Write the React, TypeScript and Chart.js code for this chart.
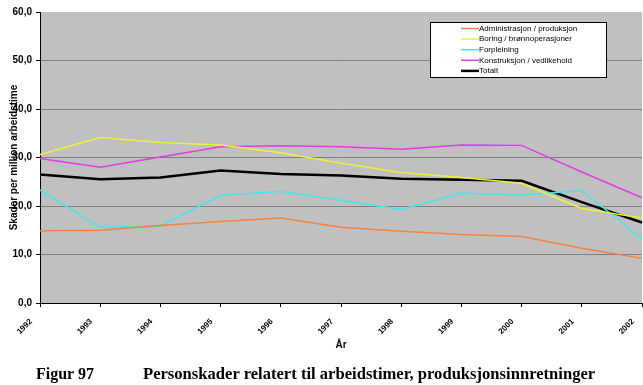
import React, { useEffect, useRef } from "react";
import { Chart, registerables } from "chart.js";

Chart.register(...registerables);

const years = ["1992", "1993", "1994", "1995", "1996", "1997", "1998", "1999", "2000", "2001", "2002"];
const yTicks = [0, 10, 20, 30, 40, 50, 60];

const administrasjon = [14.9, 15.0, 16.0, 16.8, 17.5, 15.6, 14.8, 14.1, 13.7, 11.3, 9.2];
const boring = [30.6, 34.1, 33.1, 32.6, 31.0, 28.8, 26.9, 25.9, 24.7, 19.5, 17.5];
const forpleining = [23.3, 15.6, 15.9, 22.2, 23.0, 21.2, 19.3, 22.7, 22.2, 23.2, 13.2];
const konstruksjon = [29.8, 28.0, 30.1, 32.2, 32.4, 32.2, 31.7, 32.6, 32.5, 27.0, 21.7];
const totalt = [26.5, 25.5, 25.9, 27.3, 26.6, 26.3, 25.6, 25.4, 25.2, 20.8, 16.6];

const seriesLabels = [
  "Administrasjon / produksjon",
  "Boring / brønnoperasjoner",
  "Forpleining",
  "Konstruksjon / vedlikehold",
  "Totalt",
];
const seriesColors = ["#f5803e", "#f0f03c", "#40e8e8", "#e03ce0", "#000000"];
const seriesWidths = [1.5, 1.5, 1.5, 1.5, 2.5];

const FONT = "'Liberation Sans', Arial, sans-serif";

const bgPlugin = {
  id: "plotBg",
  beforeDraw(chart: any) {
    const { ctx, chartArea } = chart;
    ctx.save();
    ctx.fillStyle = "#c0c0c0";
    ctx.fillRect(chartArea.left, chartArea.top, chartArea.right - chartArea.left, chartArea.bottom - chartArea.top);
    ctx.restore();
  },
};

const legendPlugin = {
  id: "boxLegend",
  afterDraw(chart: any) {
    const { ctx, chartArea } = chart;
    const x = chartArea.right - 212;
    const y = chartArea.top + 10;
    const w = 176;
    const h = 55;
    ctx.save();
    ctx.fillStyle = "#ffffff";
    ctx.fillRect(x + 0.5, y + 0.5, w, h);
    ctx.strokeStyle = "#000000";
    ctx.lineWidth = 1;
    ctx.strokeRect(x + 0.5, y + 0.5, w, h);
    ctx.font = `8px ${FONT}`;
    ctx.textBaseline = "middle";
    ctx.textAlign = "left";
    chart.data.datasets.forEach((ds: any, i: number) => {
      const ry = y + 6.5 + i * 10.6;
      ctx.strokeStyle = ds.borderColor;
      ctx.lineWidth = ds.borderWidth;
      ctx.beginPath();
      ctx.moveTo(x + 31, ry);
      ctx.lineTo(x + 49, ry);
      ctx.stroke();
      ctx.fillStyle = "#000000";
      ctx.fillText(ds.label, x + 49, ry);
    });
    ctx.restore();
  },
};

export default function App() {
  const ref = useRef<HTMLCanvasElement | null>(null);

  useEffect(() => {
    if (!ref.current) return;
    const dataArrays = [administrasjon, boring, forpleining, konstruksjon, totalt];
    const chart = new Chart(ref.current, {
      type: "line",
      data: {
        labels: years,
        datasets: dataArrays.map((d, i) => ({
          label: seriesLabels[i],
          data: d,
          borderColor: seriesColors[i],
          backgroundColor: seriesColors[i],
          borderWidth: seriesWidths[i],
          pointRadius: 0,
          tension: 0,
          fill: false,
        })),
      },
      options: {
        animation: false,
        responsive: false,
        maintainAspectRatio: false,
        layout: { padding: { left: 0, right: 1, top: 12, bottom: 31 } },
        plugins: {
          legend: { display: false },
          tooltip: { enabled: false },
          title: { display: false },
        },
        scales: {
          x: {
            type: "category",
            offset: false,
            border: { color: "#000000", width: 1 },
            grid: {
              drawOnChartArea: false,
              drawTicks: true,
              tickLength: 4,
              tickColor: "#000000",
            },
            ticks: {
              autoSkip: false,
              minRotation: 45,
              maxRotation: 45,
              padding: 10,
              labelOffset: -9,
              color: "#000000",
              font: { family: FONT, size: 8, weight: "bold" },
            },
            title: {
              display: true,
              text: "År",
              color: "#000000",
              padding: { top: 0, bottom: 3 },
              font: { family: FONT, size: 10, weight: "bold" },
            },
            afterFit(scale: any) {
              scale.height = 51;
              scale.paddingLeft = 0;
              scale.paddingRight = 0;
            },
          },
          y: {
            min: 0,
            max: 60,
            border: { color: "#000000", width: 1 },
            afterBuildTicks(scale: any) {
              scale.ticks = yTicks.map((v) => ({ value: v }));
            },
            grid: {
              color: (c: any) => (c.tick && (c.tick.value === 60 || c.tick.value === 0) ? "rgba(0,0,0,0)" : "#808080"),
              lineWidth: 1,
              tickLength: 4,
              tickColor: "#000000",
            },
            ticks: {
              padding: 4,
              color: "#000000",
              font: { family: FONT, size: 10, weight: "bold" },
              callback: (v: any) => Number(v).toFixed(1).replace(".", ","),
            },
            title: {
              display: true,
              text: "Skader per million arbeidstime",
              color: "#000000",
              padding: { top: 8, bottom: 0 },
              font: { family: FONT, size: 10, weight: "bold" },
            },
            afterFit(scale: any) {
              scale.width = 40;
              scale.paddingTop = 0;
              scale.paddingBottom = 0;
            },
          },
        },
      },
      plugins: [bgPlugin, legendPlugin],
    });
    return () => chart.destroy();
  }, []);

  return (
    <div style={{ position: "absolute", left: 0, top: 0, width: 643, height: 385, background: "#ffffff", overflow: "hidden" }}>
      <canvas ref={ref} width={643} height={385} style={{ display: "block", width: 643, height: 385 }} />
      <div
        style={{
          position: "absolute",
          top: 366,
          left: 36,
          font: "bold 16px 'Liberation Serif', 'Times New Roman', serif",
          lineHeight: "16px",
          whiteSpace: "nowrap",
          color: "#000",
        }}
      >
        Figur 97
      </div>
      <div
        style={{
          position: "absolute",
          top: 366,
          left: 143,
          font: "bold 16.6px 'Liberation Serif', 'Times New Roman', serif",
          lineHeight: "16px",
          whiteSpace: "nowrap",
          color: "#000",
        }}
      >
        Personskader relatert til arbeidstimer, produksjonsinnretninger
      </div>
    </div>
  );
}
